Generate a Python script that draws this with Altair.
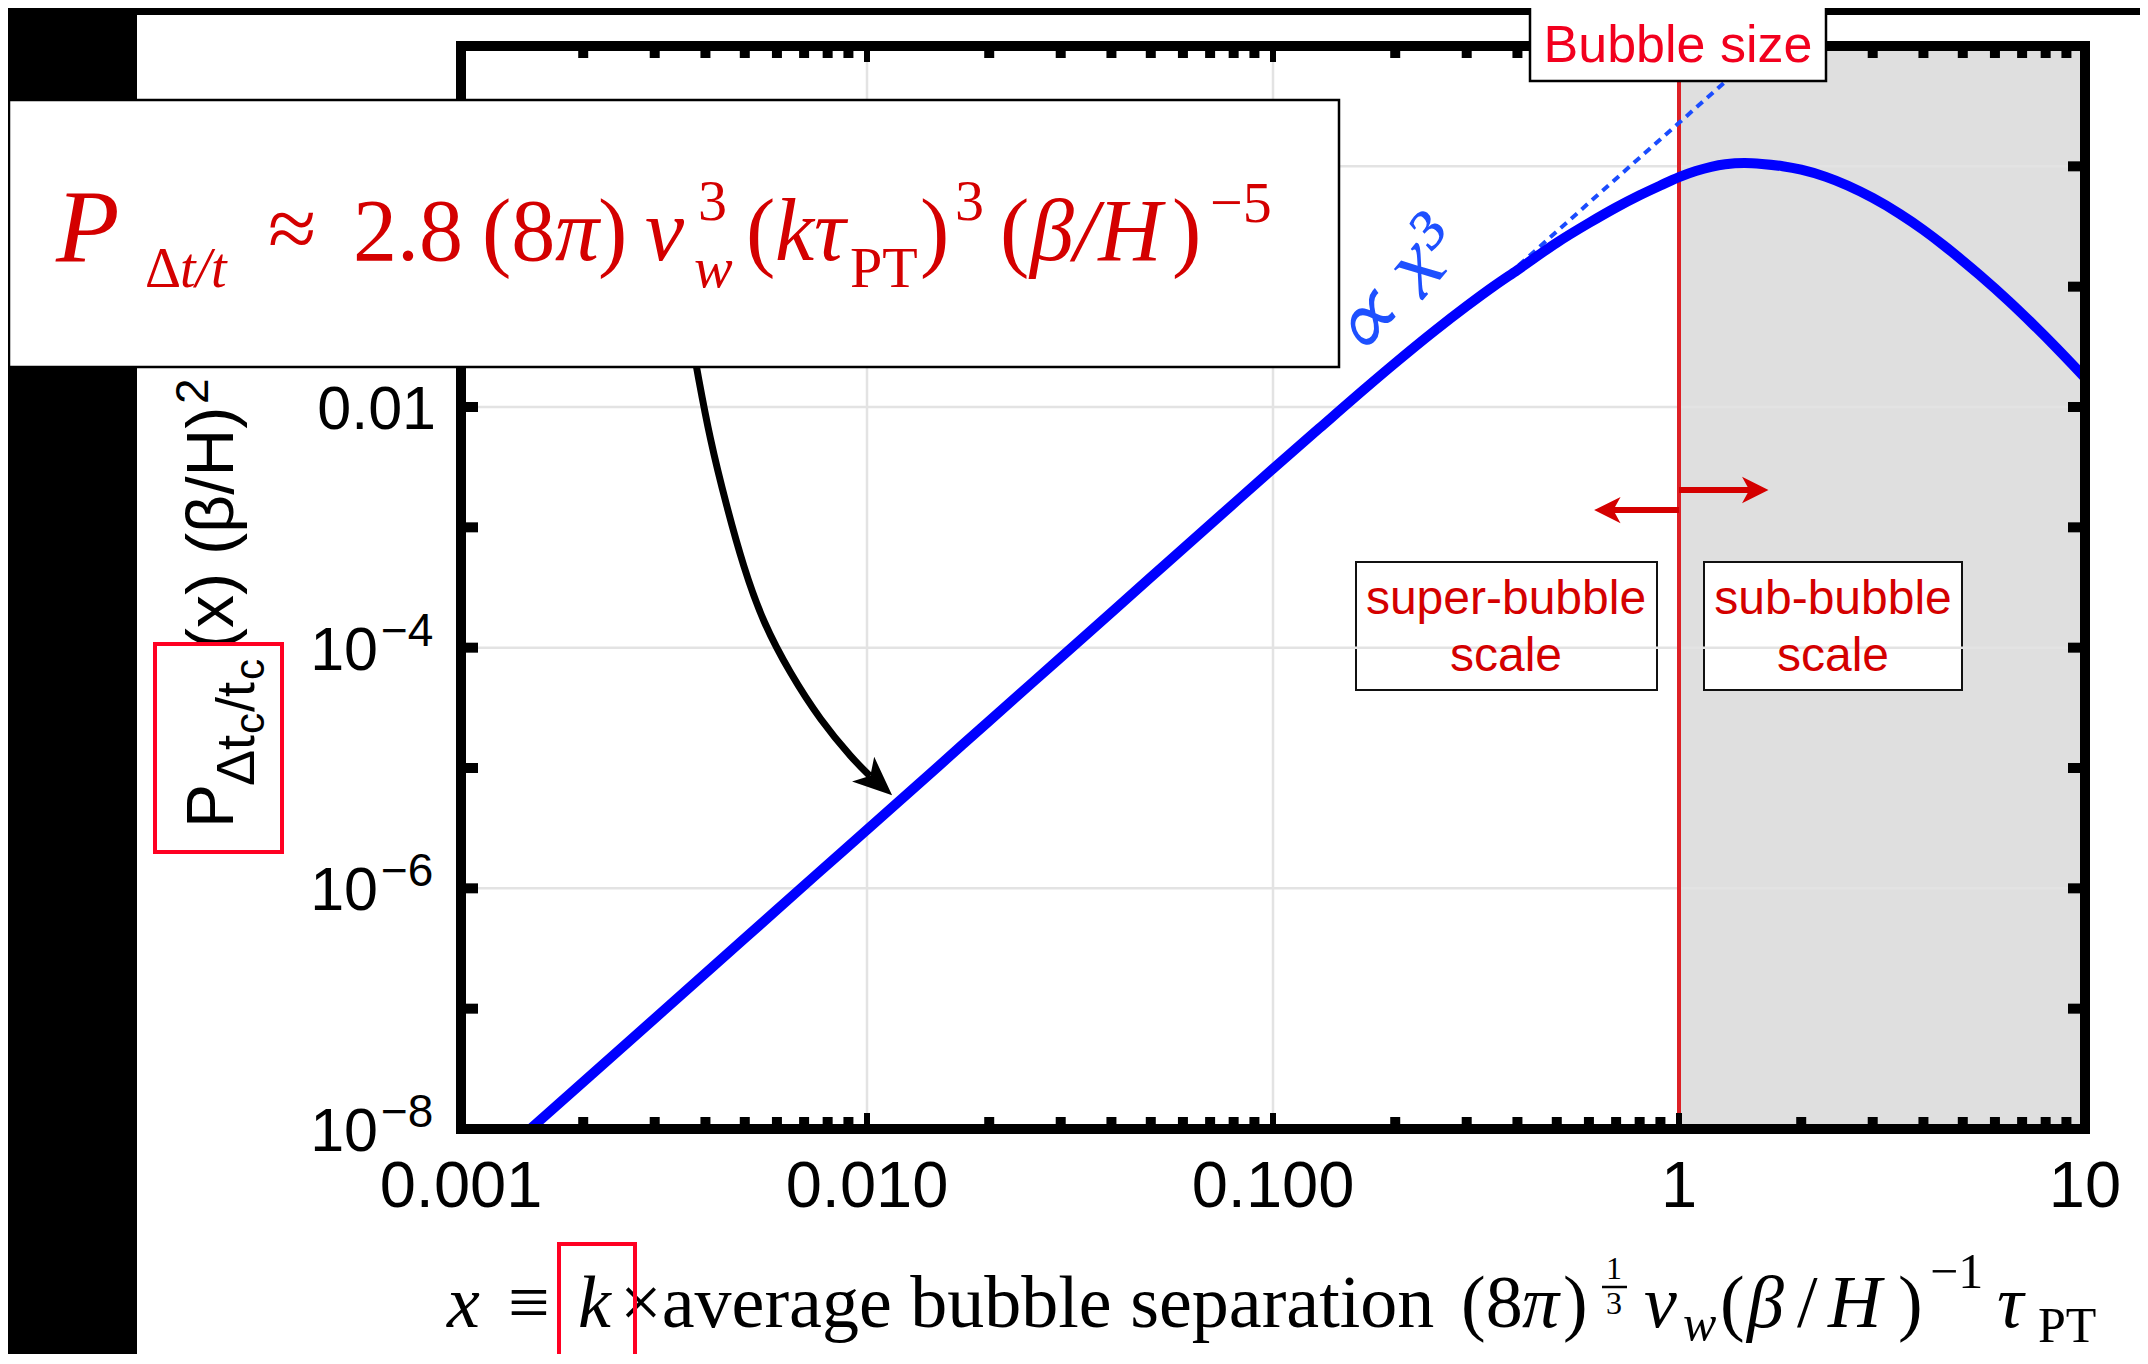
import altair as alt
import pandas as pd

# ---------------- data ----------------
x_curve = [0.00145, 0.002, 0.003, 0.005, 0.0075, 0.01, 0.015, 0.02, 0.03, 0.05, 0.075,
           0.1, 0.13, 0.17, 0.2, 0.25, 0.3, 0.35, 0.4, 0.5, 0.6, 0.7, 0.8, 0.9, 1.0,
           1.1, 1.2, 1.3, 1.45, 1.6, 1.8, 2.0, 2.3, 2.6, 3.0, 3.5, 4.0, 4.5, 5.0, 5.5,
           6.5, 7.5, 8.5, 10.0]
p_curve = [9.4e-9, 2.46e-8, 8.29e-8, 3.84e-7, 1.30e-6, 3.07e-6, 1.036e-5, 2.46e-5,
           8.29e-5, 3.84e-4, 1.296e-3, 3.07e-3, 6.65e-3, 1.459e-2, 2.32e-2, 4.29e-2,
           6.90e-2, 0.101, 0.1375, 0.232, 0.338, 0.455, 0.575, 0.693, 0.813, 0.914,
           0.991, 1.040, 1.064, 1.047, 1.002, 0.937, 0.817, 0.693, 0.546, 0.402, 0.296,
           0.219, 0.164, 0.125, 0.0755, 0.0475, 0.0311, 0.0175]
x_guide = [0.38, 0.6, 0.8, 1.0, 1.2, 1.32]
p_guide = [0.126, 0.497, 1.18, 2.3, 3.97, 5.29]

x_tick_values = [0.001, 0.01, 0.1, 1, 10]
x_tick_labels = ["0.001", "0.010", "0.100", "1", "10"]
x_grid = [0.01, 0.1, 1]
y_grid = [1e-6, 1e-4, 1e-2, 1e0]
y_pow_values = [1e-8, 1e-6, 1e-4]
y_pow_exps = ["\u22128", "\u22126", "\u22124"]
y_dec_values = [1e-2]
y_dec_labels = ["0.01"]
x_minor = [m * 10.0 ** e for e in (-3, -2, -1, 0) for m in range(2, 10)]
x_major_inner = [0.01, 0.1, 1]
y_major_inner = [1e-7, 1e-6, 1e-5, 1e-4, 1e-3, 1e-2, 1e-1, 1e0]

sub_region_from = [1.0]
sub_region_to = [10.0]
bubble_size = [1.0]

# annotation arrows, in data units
arrow_path_x = [0.003783, 0.003806, 0.004105, 0.004512, 0.004958, 0.005553, 0.006462,
                0.007658, 0.009253, 0.010171]
arrow_path_y = [0.02377, 0.02104, 0.005333, 0.001489, 4.72e-4, 1.60e-4, 6.14e-5,
                2.51e-5, 1.17e-5, 8.59e-6]
arrow_head_x = [0.01062]
arrow_head_y = [7.62e-6]
left_arrow_x = [1.0, 0.666]
left_arrow_y = [1.39e-3, 1.39e-3]
right_arrow_x = [1.0, 1.541]
right_arrow_y = [2.04e-3, 2.04e-3]

# ---------------- layout ----------------
OX, OY = 461, 46          # plot origin in reference pixels
W, H = 1624, 1083
def px(v): return v - OX
def py(v): return v - OY

SANS = "Liberation Sans"
SERIF = "Liberation Serif"
RED_F = "#d40000"
RED_B = "#f2001e"
RED_BOX = "#ff0022"
RED_L = "#dd2026"
BLUE = "#0000ff"
BLUE_T = "#1e50ff"

one = pd.DataFrame({"k": [0]})
XS = alt.Scale(type="log", domain=[0.001, 10], nice=False)
YS = alt.Scale(type="log", domain=[1e-8, 10], nice=False)
def X(f): return alt.X(f, type="quantitative", scale=XS, axis=None)
def Y(f): return alt.Y(f, type="quantitative", scale=YS, axis=None)

def box(x1, y1, x2, y2, fill="transparent", stroke=None, sw=0):
    kw = dict(clip=False, fill=fill)
    if stroke:
        kw["stroke"] = stroke
        kw["strokeWidth"] = sw
    return alt.Chart(one).mark_rect(**kw).encode(
        x=alt.value(px(x1)), x2=alt.value(px(x2)),
        y=alt.value(py(y1)), y2=alt.value(py(y2)))

def txt(s, x, y, size, color="black", font=SANS, style=None, align="left",
        baseline="alphabetic", angle=None):
    kw = dict(text=s, fontSize=size, color=color, font=font, align=align,
              baseline=baseline, clip=False)
    if style:
        kw["fontStyle"] = style
    if angle is not None:
        kw["angle"] = angle
    return alt.Chart(one).mark_text(**kw).encode(x=alt.value(px(x)), y=alt.value(py(y)))

layers = []
# white panel on black page
layers.append(box(137, 15, 2200, 1400, fill="white"))
# shaded sub-bubble region
layers.append(alt.Chart(pd.DataFrame({"a": sub_region_from, "b": sub_region_to}))
              .mark_rect(color="#dfdfdf").encode(x=X("a"), x2=alt.X2("b"),
                                                  y=alt.value(0), y2=alt.value(H)))
# text boxes
layers.append(box(1356, 562, 1657, 690, fill="white", stroke="#111111", sw=2))
layers.append(box(1704, 562, 1962, 690, fill="white", stroke="#111111", sw=2))
# grid
layers.append(alt.Chart(pd.DataFrame({"x": x_grid})).mark_rule(color="#e3e3e3", strokeWidth=2.5)
              .encode(x=X("x"), y=alt.value(0), y2=alt.value(H)))
layers.append(alt.Chart(pd.DataFrame({"y": y_grid})).mark_rule(color="#e3e3e3", strokeWidth=2.5)
              .encode(y=Y("y"), x=alt.value(0), x2=alt.value(W)))
# bubble size line
layers.append(alt.Chart(pd.DataFrame({"x": bubble_size})).mark_rule(color=RED_L, strokeWidth=4)
              .encode(x=X("x"), y=alt.value(py(81)), y2=alt.value(H)))
# x^3 guide
layers.append(alt.Chart(pd.DataFrame({"x": x_guide, "y": p_guide}))
              .mark_line(color="#1a4cff", strokeWidth=4, strokeDash=[8, 6], clip=True)
              .encode(x=X("x"), y=Y("y")))
# main curve
layers.append(alt.Chart(pd.DataFrame({"x": x_curve, "y": p_curve}))
              .mark_line(color=BLUE, strokeWidth=10, clip=True, interpolate="monotone")
              .encode(x=X("x"), y=Y("y")))
# frame
layers.append(alt.Chart(one).mark_rect(fill="transparent", stroke="black", strokeWidth=10)
              .encode(x=alt.value(0), x2=alt.value(W), y=alt.value(0), y2=alt.value(H)))
# ticks
xm = pd.DataFrame({"x": x_minor})
xM = pd.DataFrame({"x": x_major_inner})
yM = pd.DataFrame({"y": y_major_inner})
layers.append(alt.Chart(xm).mark_rule(color="black", strokeWidth=10)
              .encode(x=X("x"), y=alt.value(H - 4), y2=alt.value(H - 12)))
layers.append(alt.Chart(xm).mark_rule(color="black", strokeWidth=10)
              .encode(x=X("x"), y=alt.value(4), y2=alt.value(12)))
layers.append(alt.Chart(xM).mark_rule(color="black", strokeWidth=6)
              .encode(x=X("x"), y=alt.value(H - 4), y2=alt.value(H - 16)))
layers.append(alt.Chart(xM).mark_rule(color="black", strokeWidth=6)
              .encode(x=X("x"), y=alt.value(4), y2=alt.value(16)))
layers.append(alt.Chart(yM).mark_rule(color="black", strokeWidth=10)
              .encode(y=Y("y"), x=alt.value(4), x2=alt.value(17)))
layers.append(alt.Chart(yM).mark_rule(color="black", strokeWidth=10)
              .encode(y=Y("y"), x=alt.value(W - 4), x2=alt.value(W - 17)))

# red arrows
HEAD = "M1,0L-1,-1L-0.45,0L-1,1Z"
layers.append(alt.Chart(pd.DataFrame({"x": left_arrow_x, "y": left_arrow_y}))
              .mark_line(color=RED_F, strokeWidth=6).encode(x=X("x"), y=Y("y")))
layers.append(alt.Chart(pd.DataFrame({"x": right_arrow_x, "y": right_arrow_y}))
              .mark_line(color=RED_F, strokeWidth=6).encode(x=X("x"), y=Y("y")))
layers.append(alt.Chart(pd.DataFrame({"x": left_arrow_x[1:], "y": left_arrow_y[1:]}))
              .mark_point(shape=HEAD, size=700, filled=True, fill=RED_F, strokeWidth=0,
                          opacity=1, angle=180).encode(x=X("x"), y=Y("y")))
layers.append(alt.Chart(pd.DataFrame({"x": right_arrow_x[1:], "y": right_arrow_y[1:]}))
              .mark_point(shape=HEAD, size=700, filled=True, fill=RED_F, strokeWidth=0,
                          opacity=1, angle=0).encode(x=X("x"), y=Y("y")))
# region labels
for s, x, y in [("super-bubble", 1506, 614), ("scale", 1506, 671),
                ("sub-bubble", 1833, 614), ("scale", 1833, 671)]:
    layers.append(txt(s, x, y, 48, color=RED_F, align="center"))

# black curved arrow
layers.append(alt.Chart(pd.DataFrame({"x": arrow_path_x, "y": arrow_path_y}))
              .mark_line(color="black", strokeWidth=7, interpolate="basis")
              .encode(x=X("x"), y=Y("y")))
layers.append(alt.Chart(pd.DataFrame({"x": arrow_head_x, "y": arrow_head_y}))
              .mark_point(shape="M1,0L-1,-0.85L-0.5,0L-1,0.85Z", size=1520, filled=True,
                          fill="black", strokeWidth=0, opacity=1, angle=42)
              .encode(x=X("x"), y=Y("y")))

# formula box
layers.append(box(9, 100, 1339, 367, fill="white", stroke="black", sw=2.5))
for s, x, y, size, st in [
        ("P", 56, 262, 104, "italic"),
        ("\u0394", 145, 287, 56, None),
        ("t/t", 180, 287, 56, "italic"),
        ("\u2248", 268, 258, 88, None),
        ("2.8", 353, 260, 88, None),
        ("(8", 482, 260, 88, None),
        ("\u03c0", 555, 260, 88, "italic"),
        (")", 598, 260, 88, None),
        ("v", 645, 260, 88, "italic"),
        ("3", 698, 220, 58, None),
        ("w", 694, 287, 58, "italic"),
        ("(", 746, 260, 88, None),
        ("k\u03c4", 775, 260, 88, "italic"),
        ("PT", 850, 287, 58, None),
        (")", 920, 260, 88, None),
        ("3", 955, 220, 58, None),
        ("(", 1000, 260, 88, None),
        ("\u03b2/H", 1030, 260, 88, "italic"),
        (")", 1172, 260, 88, None),
        ("\u22125", 1210, 222, 58, None)]:
    layers.append(txt(s, x, y, size, color=RED_F, font=SERIF, style=st))

# bubble size box
layers.append(box(1530, 5, 1826, 81, fill="white", stroke="black", sw=2.5))
layers.append(txt("Bubble size", 1678, 62, 52, color=RED_B, align="center"))

# proportional-to label
layers.append(txt("\u221d x\u00b3", 1395, 290, 92, color=BLUE_T, font=SERIF, style="italic",
                  align="center", baseline="middle", angle=310))

# y tick labels
ypow = pd.DataFrame({"y": y_pow_values, "e": y_pow_exps})
layers.append(alt.Chart(ypow).mark_text(text="10", fontSize=61, font=SANS, color="black",
                                        align="right", baseline="alphabetic", dy=22, clip=False)
              .encode(x=alt.value(px(378)), y=Y("y")))
layers.append(alt.Chart(ypow).mark_text(fontSize=46, font=SANS, color="black",
                                        align="left", baseline="alphabetic", dy=-2, clip=False)
              .encode(x=alt.value(px(381)), y=Y("y"), text="e:N"))
layers.append(alt.Chart(pd.DataFrame({"y": y_dec_values, "t": y_dec_labels}))
              .mark_text(fontSize=61, font=SANS, color="black", align="right",
                         baseline="alphabetic", dy=22, clip=False)
              .encode(x=alt.value(px(436)), y=Y("y"), text="t:N"))
# x tick labels
layers.append(alt.Chart(pd.DataFrame({"x": x_tick_values, "t": x_tick_labels}))
              .mark_text(fontSize=65, font=SANS, color="black", align="center",
                         baseline="alphabetic", clip=False)
              .encode(x=X("x"), y=alt.value(py(1207)), text="t:N"))

# y title
for s, x, y, size in [("P", 233, 828, 66), ("\u0394t", 254, 786, 54), ("c", 264, 734, 42),
                      ("/t", 254, 712, 54), ("c", 264, 680, 42),
                      ("(x) (\u03b2/H)", 233, 650, 66), ("2", 208, 404, 46)]:
    layers.append(txt(s, x, y, size, angle=270))
layers.append(box(155, 644, 282, 852, stroke=RED_BOX, sw=4))

# x title
for s, x, y, size, st in [
        ("x", 447, 1327, 74, "italic"),
        ("\u2261", 508, 1327, 74, None),
        ("k", 578, 1327, 74, "italic"),
        ("\u00d7average bubble separation", 620, 1327, 74, None),
        ("(8", 1461, 1327, 74, None),
        ("\u03c0", 1522, 1327, 74, "italic"),
        (")", 1563, 1327, 74, None),
        ("v", 1644, 1327, 74, "italic"),
        ("w", 1683, 1340, 50, "italic"),
        ("(", 1720, 1327, 74, None),
        ("\u03b2", 1747, 1327, 74, "italic"),
        ("/", 1797, 1327, 74, None),
        ("H", 1828, 1327, 74, "italic"),
        (")", 1898, 1327, 74, None),
        ("\u22121", 1930, 1288, 50, None),
        ("\u03c4", 1997, 1327, 74, "italic"),
        ("PT", 2038, 1342, 50, None)]:
    layers.append(txt(s, x, y, size, font=SERIF, style=st))
layers.append(txt("1", 1614, 1279, 32, font=SERIF, align="center"))
layers.append(txt("3", 1614, 1314, 32, font=SERIF, align="center"))
layers.append(alt.Chart(one).mark_rule(color="black", strokeWidth=2.5, clip=False)
              .encode(x=alt.value(px(1602)), x2=alt.value(px(1627)),
                      y=alt.value(py(1287)), y2=alt.value(py(1287))))
layers.append(box(559, 1244, 635, 1400, stroke=RED_BOX, sw=4))

chart = alt.layer(*layers).properties(
    width=W, height=H,
    padding={"left": OX - 8, "top": OY - 8, "right": 2132 - (OX - 8) - W,
             "bottom": 1346 - (OY - 8) - H},
    autosize=alt.AutoSizeParams(type="none"),
    background="black",
).configure_view(strokeWidth=0)

chart.save("out.html", embed_options={"renderer": "svg", "actions": False})
